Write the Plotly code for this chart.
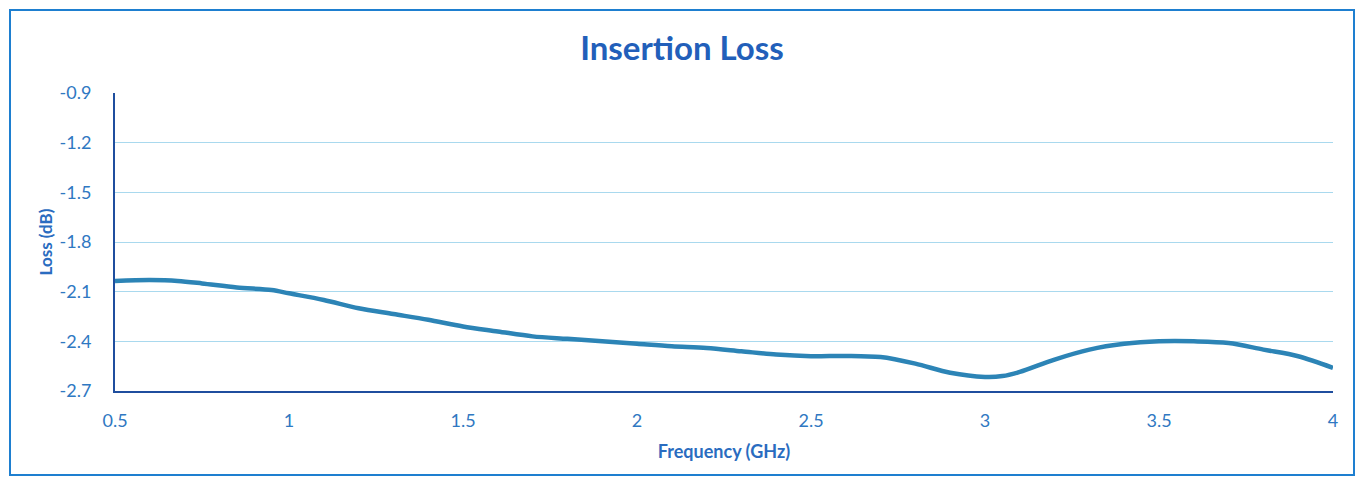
import plotly.graph_objects as go

freq_ghz = [0.5, 0.6, 0.68, 0.75, 0.85, 0.95, 1.0, 1.1, 1.2, 1.3, 1.4, 1.5, 1.6, 1.7, 1.8,
            1.9, 2.0, 2.1, 2.2, 2.3, 2.4, 2.5, 2.6, 2.7, 2.8, 2.9, 3.0, 3.05, 3.1,
            3.2, 3.3, 3.4, 3.5, 3.6, 3.7, 3.8, 3.9, 4.0]
loss_db = [-2.035, -2.03, -2.035, -2.05, -2.075, -2.09, -2.11, -2.15, -2.20, -2.235, -2.27,
           -2.31, -2.34, -2.37, -2.385, -2.40, -2.415, -2.43, -2.44, -2.46, -2.48, -2.49,
           -2.488, -2.495, -2.535, -2.59, -2.615, -2.61, -2.585, -2.51, -2.45, -2.415,
           -2.40, -2.40, -2.41, -2.45, -2.49, -2.56]
x_ticks = [0.5, 1, 1.5, 2, 2.5, 3, 3.5, 4]
y_ticks = [-0.9, -1.2, -1.5, -1.8, -2.1, -2.4, -2.7]

# page body has an 8px margin on each side; keep the figure inside the window
OFF = 8
W, H = 1364 - 2 * OFF, 485 - 2 * OFF
PL, PR, PT, PB = 115, 1333, 93, 391          # plot area in page pixels
L, T = PL - OFF, PT - OFF
R, B = (OFF + W) - PR, (OFF + H) - PB
pw, ph = PR - PL, PB - PT

fig = go.Figure()
fig.add_trace(go.Scatter(x=freq_ghz, y=loss_db, mode="lines",
                         line=dict(color="#2C84B6", width=4.5, shape="spline", smoothing=0.9),
                         showlegend=False))

font_family = "Lato, Open Sans, sans-serif"
tick_color = "#2F78C2"
fig.update_layout(
    width=W, height=H,
    margin=dict(l=L, r=R, t=T, b=B),
    paper_bgcolor="white", plot_bgcolor="white",
    title=dict(text="<b>Insertion Loss</b>", x=(682 - OFF) / W, xref="container",
               y=1 - (48 - OFF) / H, yref="container", yanchor="middle", xanchor="center",
               font=dict(family=font_family, size=33, color="#225FBA")),
    xaxis=dict(range=[0.5, 4], tickvals=x_ticks, ticktext=[str(v) for v in x_ticks],
               showgrid=False, zeroline=False, showline=True, linecolor="#1F4E9E", linewidth=2,
               ticks="", ticklabelstandoff=12,
               tickfont=dict(family=font_family, size=18, color=tick_color),
               title=dict(text="<b>Frequency (GHz)</b>", standoff=16,
                          font=dict(family=font_family, size=18, color="#2A6CC0"))),
    yaxis=dict(range=[-2.7, -0.9], tickvals=y_ticks, ticktext=[str(v) for v in y_ticks],
               showgrid=True, gridcolor="#A9D9EE", gridwidth=1, zeroline=False,
               showline=True, linecolor="#1F4E9E", linewidth=2, ticks="", ticklabelstandoff=18,
               tickfont=dict(family=font_family, size=18, color=tick_color),
               title=dict(text="<b>Loss (dB)</b>", standoff=3,
                          font=dict(family=font_family, size=17, color="#2A6CC0"))),
    shapes=[dict(type="rect", xref="paper", yref="paper",
                 x0=(OFF + 2 - PL) / pw, x1=(OFF + W - 2 - PL) / pw,
                 y0=(PB - (OFF + H - 2)) / ph, y1=(PB - (OFF + 2)) / ph,
                 line=dict(color="#1E7FD0", width=2), fillcolor="rgba(0,0,0,0)", layer="below")],
)

fig.write_html("out.html")
